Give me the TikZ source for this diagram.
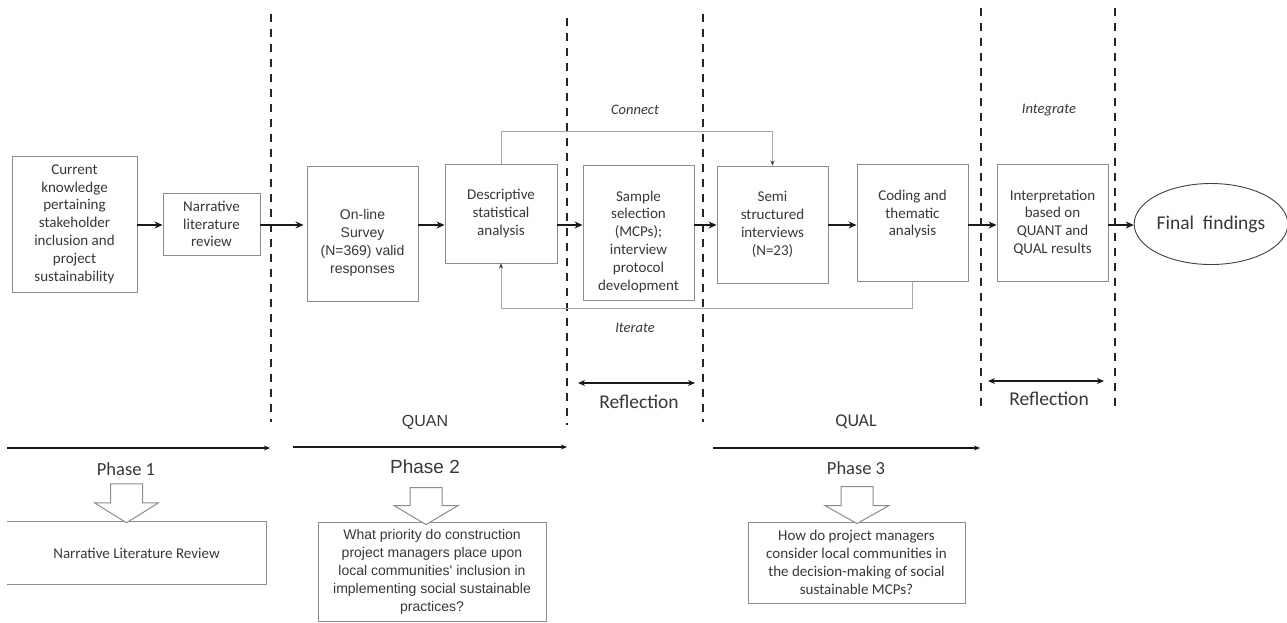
\documentclass[tikz,border=0pt]{standalone}
\usepackage{fontspec}
\newfontfamily\carl{Carlito}
\newfontfamily\ari{Liberation Sans}
\usetikzlibrary{arrows.meta,shapes.geometric}
\definecolor{boxgray}{HTML}{8C8C8C}
\definecolor{txt}{HTML}{383838}
\definecolor{linegray}{HTML}{A8A8A8}
\begin{document}
\begin{tikzpicture}[x=1pt,y=-1pt,
  bx/.style={draw=boxgray, line width=0.9pt, inner sep=0pt, align=center, text=txt,
    font=\carl\fontsize{15}{17.8}\selectfont},
  tx/.style={inner sep=0pt, align=center, text=txt, font=\carl\fontsize{15}{17.8}\selectfont},
  atx/.style={inner sep=0pt, align=center, text=txt, font=\ari\fontsize{14}{18}\selectfont},
  arr/.style={line width=1.6pt, black!90, -{Stealth[length=8pt,width=7pt]}},
  pharr/.style={line width=1.6pt, black!90, -{Stealth[length=6pt,width=5pt]}},
  dbl/.style={line width=1.6pt, black!90, {Stealth[length=7pt,width=6pt]}-{Stealth[length=7pt,width=6pt]}},
  gl/.style={draw=linegray, line width=0.9pt, -{Stealth[length=5pt,width=4pt,color=black!80]}},
  dl/.style={line width=2pt, black!85, dash pattern=on 8pt off 7pt},
  blk/.style={draw=boxgray, line width=1pt, fill=white, line join=miter},
  itl/.style={inner sep=0pt, text=txt, font=\carl\itshape\fontsize{14.5}{17}\selectfont},
  big/.style={inner sep=0pt, text=txt, font=\carl\fontsize{18.5}{20}\selectfont}]
\useasboundingbox (0,0) rectangle (1287,622);
\fill[white] (0,0) rectangle (1287,622);

% dashed separators
\coordinate (d1t) at (271,14);  \coordinate (d1b) at (271,422);
\coordinate (d2t) at (567,18);  \coordinate (d2b) at (567,425);
\coordinate (d3t) at (703,14);  \coordinate (d3b) at (703,422);
\coordinate (d4t) at (981,8);   \coordinate (d4b) at (981,412);
\coordinate (d5t) at (1115,8);  \coordinate (d5b) at (1115,412);
\foreach \i in {1,...,5} {\draw[dl] (d\i t) -- (d\i b);}

% main row boxes
\coordinate (row) at (0,225);
\node[bx, minimum width=125pt, minimum height=136pt] (a) at (74.5,224)
  {Current\\knowledge\\pertaining\\stakeholder\\inclusion and\\project\\sustainability};
\node[bx, minimum width=97pt, minimum height=62pt] (b) at (211.5,224)
  {Narrative\\literature\\review};
\node[bx, minimum width=111pt, minimum height=135pt] (survey) at (362.5,233.5) {};
\node[atx] (surveyt) at (362.5,243) {On-line\\Survey\\(N=369) valid\\responses};
\node[bx, minimum width=112pt, minimum height=99pt] (desc) at (501,213.5)
  {Descriptive\\statistical\\analysis};
\node[bx, minimum width=111pt, minimum height=135pt] (sample) at (638.5,232.5) {};
\node[tx] (samplet) at (638.5,241.5)
  {Sample\\selection\\(MCPs);\\interview\\protocol\\development};
\node[bx, minimum width=111pt, minimum height=117pt] (semi) at (772.5,224.5)
  {Semi\\structured\\interviews\\(N=23)};
\node[bx, minimum width=111pt, minimum height=117pt] (coding) at (912.5,222.5) {};
\node[tx] (codingt) at (912.5,214) {Coding and\\thematic\\analysis};
\node[bx, minimum width=111pt, minimum height=117pt] (interp) at (1052.5,222.5)
  {Interpretation\\based on\\QUANT and\\QUAL results};
\node[ellipse, draw=black!75, line width=0.9pt, inner sep=0pt, minimum width=150pt,
  minimum height=81pt, text=txt, font=\carl\fontsize{19.5}{21}\selectfont] (final) at (1211,224)
  {Final\ \ findings};

% main arrows
\draw[arr] (a.east |- row) -- (b.west |- row);
\draw[arr] (b.east |- row) -- ([xshift=-3pt]survey.west |- row);
\draw[arr] (survey.east |- row) -- (desc.west |- row);
\draw[arr] (desc.east |- row) -- (sample.west |- row);
\draw[arr] (sample.east |- row) -- (semi.west |- row);
\draw[arr] (semi.east |- row) -- (coding.west |- row);
\draw[arr] (coding.east |- row) -- (interp.west |- row);
\draw[arr] (interp.east |- row) -- (final.west |- row);

% connect / iterate loops
\draw[gl] (desc.north) -- ++(0,-32) -| (semi.north);
\draw[gl] (coding.south) -- ++(0,27) -| (desc.south);
\node[itl] (connect) at (635,110) {Connect};
\node[itl] (iterate) at (635,328) {Iterate};
\node[itl] (integrate) at (1049,110) {Integrate};

% reflection arrows
\coordinate (r1a) at (578,383); \coordinate (r1b) at (695,383);
\coordinate (r2a) at (988,381); \coordinate (r2b) at (1104,381);
\draw[dbl] (r1a) -- (r1b);
\draw[dbl] (r2a) -- (r2b);
\node[inner sep=0pt, text=txt, font=\carl\fontsize{19.5}{21}\selectfont] (refl1) at (639,402) {Reflection};
\node[inner sep=0pt, text=txt, font=\carl\fontsize{19.5}{21}\selectfont] (refl2) at (1049,399) {Reflection};

% phase arrows and labels
\coordinate (p1s) at (7,448);   \coordinate (p1e) at (270,448);
\coordinate (p2s) at (293,447); \coordinate (p2e) at (567,447);
\coordinate (p3s) at (713,448); \coordinate (p3e) at (980,448);
\draw[pharr] (p1s) -- (p1e);
\draw[pharr] (p2s) -- (p2e);
\draw[pharr] (p3s) -- (p3e);
\node[inner sep=0pt, text=txt, font=\ari\fontsize{16}{18}\selectfont] (quan) at (425,422) {QUAN};
\node[inner sep=0pt, text=txt, font=\carl\fontsize{18}{20}\selectfont] (qual) at (856,422) {QUAL};
\node[big] (ph1) at (126,469) {Phase 1};
\node[inner sep=0pt, text=txt, font=\ari\fontsize{19}{21}\selectfont] (ph2) at (425,467) {Phase 2};
\node[big] (ph3) at (856,468) {Phase 3};

% question boxes
\node[tx, minimum width=259pt, minimum height=62pt] (q1) at (136.5,553) {Narrative Literature Review};
\draw[draw=boxgray, line width=0.9pt] (q1.north west) -- (q1.north east) -- (q1.south east) -- (q1.south west);
\node[bx, font=\ari\fontsize{14}{18}\selectfont, minimum width=228pt, minimum height=99pt] (q2) at (432,571.5)
  {What priority do construction\\project managers place upon\\local communities' inclusion in\\implementing social sustainable\\practices?};
\node[bx, minimum width=217pt, minimum height=81pt] (q3) at (856.5,562.5)
  {How do project managers\\consider local communities in\\the decision-making of social\\sustainable MCPs?};

% block arrows
\draw[blk] ([xshift=-10pt,yshift=-1pt]q1.north) -- ++(-32,-20) -- ++(16,0) -- ++(0,-19) -- ++(32,0) -- ++(0,19) -- ++(16,0) -- cycle;
\draw[blk] ([xshift=-6pt,yshift=-3pt]q2.north) -- ++(-32,-19) -- ++(16,0) -- ++(0,-18) -- ++(32,0) -- ++(0,18) -- ++(16,0) -- cycle;
\draw[blk] ([xshift=0.5pt,yshift=-2pt]q3.north) -- ++(-32,-18) -- ++(16,0) -- ++(0,-19) -- ++(32,0) -- ++(0,19) -- ++(16,0) -- cycle;
\end{tikzpicture}
\end{document}
